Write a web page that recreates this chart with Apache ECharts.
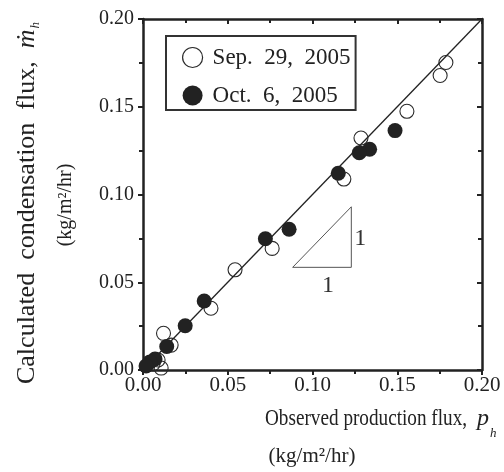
<!DOCTYPE html>
<html>
<head>
<meta charset="utf-8">
<script src="https://cdn.jsdelivr.net/npm/echarts@6/dist/echarts.min.js"></script>
<style>
  html, body { margin: 0; padding: 0; background: #fff; }
  #chart { width: 504px; height: 472px; }
</style>
</head>
<body>
<div id="chart"></div>
<script>
// Observed production flux vs calculated condensation flux (kg/m2/hr)
const sepX = [0.1787, 0.1753, 0.1557, 0.1286, 0.1185, 0.0762, 0.0543, 0.0401, 0.0121, 0.0166, 0.0089, 0.0107, 0.0059];
const sepY = [0.1752, 0.1678, 0.1474, 0.1322, 0.1088, 0.0693, 0.0571, 0.0352, 0.0209, 0.0142, 0.0057, 0.0011, 0.0034];

const octX = [0.1487, 0.1337, 0.1276, 0.1152, 0.0862, 0.0722, 0.0361, 0.0249, 0.0140, 0.0071, 0.0041, 0.0018];
const octY = [0.1364, 0.1258, 0.1238, 0.1121, 0.0802, 0.0748, 0.0393, 0.0252, 0.0134, 0.0063, 0.0046, 0.0023];

// 1:1 reference line
const diagX = [0, 0.2];
const diagY = [0, 0.2];

// slope triangle
const triX = [0.0883, 0.1229, 0.1229, 0.0883];
const triY = [0.0585, 0.0585, 0.0930, 0.0585];

const axisTicks = [0, 0.05, 0.10, 0.15, 0.20];
const seriesNames = ['Sep.  29,  2005', 'Oct.  6,  2005'];

const zip = (xs, ys) => xs.map((x, i) => [x, ys[i]]);

const INK = '#222';
const SERIF = '"Liberation Serif", "Times New Roman", serif';

function axis(pos, showLabel, inside) {
  return {
    type: 'value', position: pos, min: axisTicks[0], max: axisTicks[axisTicks.length - 1],
    interval: 0.05,
    axisLine: { show: true, onZero: false, lineStyle: { color: INK, width: 2.5 } },
    axisTick: { show: true, inside: inside, length: 5, lineStyle: { color: INK, width: 2 } },
    minorTick: { show: true, splitNumber: 2, length: 4, lineStyle: { color: INK, width: 2 } },
    splitLine: { show: false },
    minorSplitLine: { show: false },
    axisLabel: {
      show: showLabel, color: INK, fontFamily: SERIF,
      fontSize: (pos === 'bottom') ? 21 : 20,
      margin: (pos === 'bottom') ? 5 : 9,
      formatter: v => v.toFixed(2)
    }
  };
}

const chart = echarts.init(document.getElementById('chart'), null, { renderer: 'canvas' });

chart.setOption({
  animation: false,
  backgroundColor: '#fff',
  grid: { left: 143, right: 22, top: 19, bottom: 102 },
  xAxis: [axis('bottom', true, false), axis('top', false, true)],
  yAxis: [axis('left', true, false), axis('right', false, true)],
  legend: {
    data: seriesNames,
    orient: 'vertical',
    left: 166, top: 36,
    itemWidth: 30, itemHeight: 20, itemGap: 15,
    padding: [10, 5, 3, 16],
    borderColor: '#333', borderWidth: 2,
    backgroundColor: '#fff',
    itemStyle: { borderWidth: 1.2 },
    textStyle: { fontFamily: SERIF, fontSize: 23, color: INK },
    selectedMode: false
  },
  series: [
    {
      name: seriesNames[0], type: 'scatter', data: zip(sepX, sepY),
      symbol: 'circle', symbolSize: 14,
      itemStyle: { color: 'rgba(255,255,255,0)', borderColor: '#2a2a2a', borderWidth: 1.1, opacity: 1 },
      z: 3
    },
    {
      type: 'line', data: zip(diagX, diagY), symbol: 'none', silent: true,
      lineStyle: { color: INK, width: 1.3 }, z: 4
    },
    {
      type: 'line', data: zip(triX, triY), symbol: 'none', silent: true,
      lineStyle: { color: '#555', width: 1 }, z: 4
    },
    {
      name: seriesNames[1], type: 'scatter', data: zip(octX, octY),
      symbol: 'circle', symbolSize: 15,
      itemStyle: { color: INK, borderWidth: 0, opacity: 1 },
      z: 5
    }
  ]
});

// slope labels next to the triangle
const pRight = chart.convertToPixel({ xAxisIndex: 0, yAxisIndex: 0 }, [triX[1], (triY[1] + triY[2]) / 2]);
const pBase = chart.convertToPixel({ xAxisIndex: 0, yAxisIndex: 0 }, [(triX[0] + triX[1]) / 2, triY[0]]);

chart.setOption({
  graphic: [
    { type: 'text', x: pRight[0] + 3, y: pRight[1] + 2,
      style: { text: '1', font: '24px ' + SERIF, fill: '#333', textAlign: 'left', textVerticalAlign: 'middle' } },
    { type: 'text', x: pBase[0] + 6, y: pBase[1] + 18,
      style: { text: '1', font: '24px ' + SERIF, fill: '#333', textAlign: 'center', textVerticalAlign: 'middle' } },
    // x axis title
    { type: 'text', x: 265, y: 419, scaleX: 0.8,
      style: { text: 'Observed production flux,', font: '24px ' + SERIF, fill: INK, textAlign: 'left', textVerticalAlign: 'middle' } },
    { type: 'text', x: 477, y: 419,
      style: { text: 'p', font: 'italic 24px ' + SERIF, fill: INK, textAlign: 'left', textVerticalAlign: 'middle' } },
    { type: 'text', x: 490, y: 434,
      style: { text: 'h', font: 'italic 13px ' + SERIF, fill: INK, textAlign: 'left', textVerticalAlign: 'middle' } },
    { type: 'text', x: 312, y: 456,
      style: { text: '(kg/m²/hr)', font: '21px ' + SERIF, fill: INK, textAlign: 'center', textVerticalAlign: 'middle' } },
    // y axis title
    { type: 'text', x: 27, y: 203, rotation: Math.PI / 2,
      style: {
        text: '{a|Calculated  condensation  flux,  }{m|ṁ}{h|h}',
        textAlign: 'center', textVerticalAlign: 'middle', fill: INK,
        rich: {
          a: { font: '26px ' + SERIF, fill: INK, lineHeight: 30 },
          m: { font: 'italic 26px ' + SERIF, fill: INK, lineHeight: 30 },
          h: { font: 'italic 13px ' + SERIF, fill: INK, lineHeight: 30, verticalAlign: 'bottom', padding: [14, 0, 0, 1] }
        }
      } },
    { type: 'text', x: 66, y: 205, rotation: Math.PI / 2,
      style: { text: '(kg/m²/hr)', font: '20px ' + SERIF, fill: INK, textAlign: 'center', textVerticalAlign: 'middle' } }
  ]
});
</script>
</body>
</html>
